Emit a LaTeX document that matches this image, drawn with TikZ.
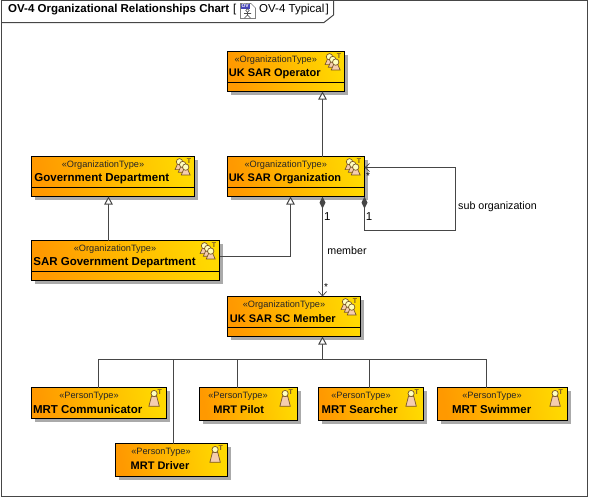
\documentclass[tikz,border=0pt]{standalone}
\usepackage{fontspec}
\setmainfont{Liberation Sans}
\usetikzlibrary{shadows,arrows.meta}
\definecolor{uorange}{RGB}{255,153,0}
\definecolor{uyellow}{RGB}{255,217,0}
\definecolor{ushadow}{RGB}{170,170,170}
\definecolor{uline}{RGB}{70,70,70}
\definecolor{uhead}{RGB}{255,255,190}
\definecolor{ubody}{RGB}{245,205,175}
\definecolor{uedge}{RGB}{120,85,40}
\newcommand{\titlesz}{11}
\tikzset{
  x=1pt,y=-1pt,
  umlbox/.style={draw=black,line width=1pt,anchor=north west,inner sep=0pt,outer sep=0pt,
    shading=axis,left color=uorange,right color=uyellow,shading angle=100,
    drop shadow={shadow xshift=3pt,shadow yshift=-3pt,fill=ushadow,opacity=1}},
  stereo/.style={font=\fontsize{9.2}{11}\selectfont,inner sep=0pt,text=black!85},
  title/.style={font=\fontsize{\titlesz}{13}\bfseries\selectfont,inner sep=0pt},
  lbl/.style={font=\fontsize{10.7}{13}\selectfont,inner sep=0pt},
  num/.style={font=\fontsize{11.5}{13}\selectfont,inner sep=0pt},
  star/.style={font=\fontsize{10}{12}\selectfont,inner sep=0pt},
  conn/.style={draw=uline,line width=1pt},
  gen/.style={conn,-{Triangle[open,length=8pt,width=8.5pt,fill=white]}},
  compassoc/.style={conn,{Diamond[length=12pt,width=6pt,fill=uline]}-{Straight Barb[length=4.5pt,width=8pt,line width=.7pt]}},
  icoedge/.style={draw=uedge,line width=.7pt},
  frametxt/.style={font=\fontsize{11.5}{13}\selectfont,inner sep=0pt,anchor=west},
  tletter/.style={font=\fontsize{7}{7}\bfseries\selectfont,text=uedge,inner sep=0pt},
}
% figure: head centre at (#1,#2)
\newcommand{\figperson}[2]{%
  \filldraw[icoedge,fill=ubody] (#1-2.6,#2+2.7) -- (#1+2.6,#2+2.7) -- (#1+5.2,#2+12.7) -- (#1-5.2,#2+12.7) -- cycle;
  \filldraw[icoedge,fill=uhead] (#1,#2) circle[radius=3.1pt];}
\newcommand{\icoperson}[2]{% box right, box top
  \figperson{#1-12.4}{#2+6}
  \node[tletter] at (#1-6.7,#2+5) {T};}
\newcommand{\figmini}[2]{%
  \filldraw[icoedge,fill=ubody] (#1-2,#2+2.2) -- (#1+2,#2+2.2) -- (#1+4.4,#2+7.8) -- (#1-4.4,#2+7.8) -- cycle;
  \filldraw[icoedge,fill=uhead] (#1,#2) circle[radius=3.2pt];}
\newcommand{\icoorg}[2]{%
  \figmini{#1-15}{#2+5.3}
  \figmini{#1-11.8}{#2+8}
  \figmini{#1-8.8}{#2+10.6}
  \node[tletter] at (#1-5.5,#2+4.5) {T};}
% \umlnode{name}{x}{y}{right}{bottom}{stereotype}{stereo cx}{title}{title cx}
\newcommand{\umlnode}[9]{%
  \node[umlbox,minimum width=#4-#2,minimum height=#5-#3] (#1) at (#2,#3) {};
  \node[stereo] (#1s) at (#7,#3+8.7) {«#6»};
  \node[title] (#1t) at (#9,#3+21.8) {#8};}
\begin{document}
\begin{tikzpicture}
\useasboundingbox (0,0) rectangle (590,499);
% frame
\draw[conn] (1.5,0.5) rectangle (587.5,496.5);
\draw[conn] (1.5,22.5) -- (324,22.5) -- (333.5,15) -- (333.5,0.5);
\node[font=\fontsize{11.5}{13}\bfseries\selectfont,inner sep=0pt,anchor=west] (frametitle) at (8,9.5) {OV-4 Organizational Relationships Chart};
\node[frametxt] (framebra) at (233,9.5) {[};
\node[frametxt] (frameview) at (259,9.5) {OV-4 Typical};
\node[frametxt] (frameket) at (325.5,9.5) {]};
% tab icon
\filldraw[draw=gray,fill=white,line width=.7pt] (240.5,3.5) -- (251,3.5) -- (255.5,8) -- (255.5,18.5) -- (240.5,18.5) -- cycle;
\fill[blue!45!gray] (241,3.5) rectangle (249.5,8.5);
\node[font=\fontsize{5}{5}\bfseries\selectfont,text=white,inner sep=0pt] at (245.2,6) {OV};
\draw[line width=.6pt,black!70] (247.5,10.5) circle[radius=1.8pt] (247.5,12.3) -- (247.5,15) (244,13.5) -- (251,13.5) (247.5,15) -- (244.5,18) (247.5,15) -- (250.5,18);
% boxes
\umlnode{op}{227.5}{51.5}{344.5}{91.5}{OrganizationType}{275.8}{UK SAR Operator}{274.8}
\umlnode{org}{227.5}{156.5}{364.5}{196.5}{OrganizationType}{285.8}{UK SAR Organization}{285}
\umlnode{mem}{227.5}{296.5}{360.5}{336.5}{OrganizationType}{284}{UK SAR SC Member}{282.8}
\umlnode{pil}{199.5}{387.5}{297.5}{420.5}{PersonType}{238}{MRT Pilot}{238.7}
\umlnode{dri}{115.5}{443.5}{227.5}{476.5}{PersonType}{161}{MRT Driver}{160}
\renewcommand{\titlesz}{11.3}
\umlnode{sea}{318.5}{387.5}{423.5}{420.5}{PersonType}{361}{MRT Searcher}{359.7}
\renewcommand{\titlesz}{11.5}
\umlnode{gov}{31.5}{156.5}{194.5}{196.5}{OrganizationType}{103}{Government Department}{101.8}
\umlnode{sar}{31.5}{240.5}{219.5}{280.5}{OrganizationType}{115}{SAR Government Department}{114.5}
\umlnode{com}{31.5}{387.5}{166.5}{418.5}{PersonType}{89}{MRT Communicator}{87.7}
\umlnode{swi}{437.5}{387.5}{567.5}{420.5}{PersonType}{492}{MRT Swimmer}{491.7}
% dividers
\draw[line width=1pt] (227.5,82.5) -- (344.5,82.5);
\draw[line width=1pt] (227.5,187.5) -- (364.5,187.5);
\draw[line width=1pt] (31.5,187.5) -- (194.5,187.5);
\draw[line width=1pt] (31.5,271.5) -- (219.5,271.5);
\draw[line width=1pt] (227.5,327.5) -- (360.5,327.5);
% icons
\icoorg{344.5}{51.5}\icoorg{364.5}{156.5}\icoorg{194.5}{156.5}\icoorg{219.5}{240.5}\icoorg{360.5}{296.5}
\icoperson{166.5}{387.5}\icoperson{297.5}{387.5}\icoperson{423.5}{387.5}\icoperson{567.5}{387.5}\icoperson{227.5}{443.5}
% generalisations
\coordinate (j0) at (322.5,359.5);
\coordinate (jcom) at (98.5,359.5);
\coordinate (jswi) at (486.5,359.5);
\coordinate (jdri) at (173.5,359.5);
\coordinate (jpil) at (237.5,359.5);
\coordinate (jsea) at (369.5,359.5);
\coordinate (xgov) at (108.5,0);
\coordinate (xorg) at (290.5,256.5);
\coordinate (yself) at (0,167.5);
\coordinate (c1) at (364.5,230.5);
\coordinate (c2) at (455.5,230.5);
\coordinate (c3) at (455.5,167.5);
\draw[gen] (org.north -| j0) -- (op.south -| j0);
\draw[gen] (sar.north -| xgov) -- (gov.south -| xgov);
\draw[gen] (sar.east |- xorg) -- (xorg) -- (org.south -| xorg);
\draw[gen] (j0) -- (mem.south -| j0);
\draw[conn] (com.north -| jcom) -- (jcom) -- (jswi) -- (swi.north -| jswi);
\draw[conn] (dri.north -| jdri) -- (jdri);
\draw[conn] (pil.north -| jpil) -- (jpil);
\draw[conn] (sea.north -| jsea) -- (jsea);
% associations
\draw[compassoc] (org.south -| j0) -- (mem.north -| j0);
\draw[compassoc] (org.south east) -- (c1) -- (c2) -- (c3) -- (org.east |- yself);
\node[num] (l1) at (327.3,217) {1};
\node[num] (l2) at (369,217) {1};
\node[star] (s1) at (368,176.5) {*};
\node[star] (s2) at (326,287.5) {*};
\node[lbl] (lm) at (347,250.5) {member};
\node[lbl] (lso) at (497.5,206.5) {sub organization};
\end{tikzpicture}
\end{document}
